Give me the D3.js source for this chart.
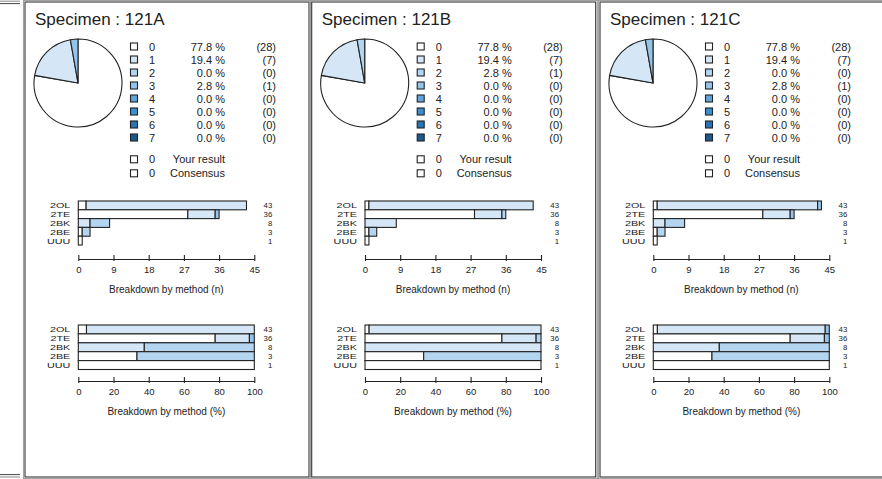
<!DOCTYPE html>
<html><head><meta charset="utf-8">
<script src="https://cdn.jsdelivr.net/npm/d3@7"></script>
<style>
body{margin:0;background:#fff;}
svg{display:block;font-family:"Liberation Sans",Arial,Helvetica,sans-serif;}
</style></head><body>
<svg id="chart" width="882" height="479"></svg>
<script>
// Specimens and the score scale (0..7)
const specimens = ["121A", "121B", "121C"];
const scoreLevels = ["0", "1", "2", "3", "4", "5", "6", "7"];
const scoreColors = ["#ffffff", "#d5e7f7", "#b3d5f0", "#94c4ea", "#5fa5dc", "#3a8fd0", "#2a74b5", "#1c5a8e"];

// Score distribution per specimen (counts for scores 0..7)
const scoreCounts121A = [28, 7, 0, 1, 0, 0, 0, 0];
const scoreCounts121B = [28, 7, 1, 0, 0, 0, 0, 0];
const scoreCounts121C = [28, 7, 0, 1, 0, 0, 0, 0];
const yourResult = [0, 0, 0];
const consensus = [0, 0, 0];

// Breakdown by method: rows follow `methods`, columns are scores 0..7
const methods = ["2OL", "2TE", "2BK", "2BE", "UUU"];
const methodScores121A = [
  [2, 41, 0, 0, 0, 0, 0, 0],
  [28, 7, 0, 1, 0, 0, 0, 0],
  [0, 3, 5, 0, 0, 0, 0, 0],
  [1, 0, 2, 0, 0, 0, 0, 0],
  [1, 0, 0, 0, 0, 0, 0, 0]
];
const methodScores121B = [
  [1, 42, 0, 0, 0, 0, 0, 0],
  [28, 7, 1, 0, 0, 0, 0, 0],
  [0, 8, 0, 0, 0, 0, 0, 0],
  [1, 0, 2, 0, 0, 0, 0, 0],
  [1, 0, 0, 0, 0, 0, 0, 0]
];
const methodScores121C = [
  [1, 41, 0, 1, 0, 0, 0, 0],
  [28, 7, 0, 1, 0, 0, 0, 0],
  [0, 3, 5, 0, 0, 0, 0, 0],
  [1, 0, 2, 0, 0, 0, 0, 0],
  [1, 0, 0, 0, 0, 0, 0, 0]
];
const countTicks = [0, 9, 18, 27, 36, 45];
const percentTicks = [0, 20, 40, 60, 80, 100];

const scoreCounts = [scoreCounts121A, scoreCounts121B, scoreCounts121C];
const methodScores = [methodScores121A, methodScores121B, methodScores121C];

const svg = d3.select("#chart");
const ink = "#222";
const panelLeft = [25, 311.7, 600];
const panelW = 284, panelTop = 2, panelBottom = 477;

// leftover edge of the previous sheet
[[1.2, "#888"], [3.6, "#444"], [474.6, "#444"], [477, "#888"]].forEach(([y, c]) => {
  svg.append("line").attr("x1", 0).attr("x2", 20).attr("y1", y).attr("y2", y)
    .attr("stroke", c).attr("stroke-width", 1);
});

function drawStackedBars(g, rows, x, y, asPercent) {
  rows.forEach((row, i) => {
    const total = d3.sum(row);
    let cum = 0;
    row.forEach((v, s) => {
      if (v <= 0) return;
      const a = asPercent ? cum / total * 100 : cum;
      const b = asPercent ? (cum + v) / total * 100 : cum + v;
      g.append("rect")
        .attr("x", x(a)).attr("y", y(methods[i]))
        .attr("width", x(b) - x(a)).attr("height", y.bandwidth())
        .attr("fill", scoreColors[s]).attr("stroke", ink).attr("stroke-width", 1.1);
      cum += v;
    });
  });
}

function drawMethodLabels(g, rows, x, y, xMax) {
  methods.forEach((m, i) => {
    const cy = y(m) + y.bandwidth() / 2 + 2.9;
    g.append("text")
      .attr("transform", `translate(${x(0) - 8},${cy}) scale(1.35,1)`)
      .attr("text-anchor", "end").attr("font-size", 8).attr("fill", ink).text(m);
    g.append("text")
      .attr("x", x(xMax) + 18).attr("y", cy)
      .attr("text-anchor", "end").attr("font-size", 7.8).attr("fill", ink)
      .text(d3.sum(rows[i]));
  });
}

function drawAxis(g, x, ticks, yAxis, title) {
  const ax = g.append("g").attr("transform", `translate(0,${yAxis})`)
    .call(d3.axisBottom(x).tickValues(ticks).tickFormat(d3.format("d"))
      .tickSizeInner(-4).tickSizeOuter(0).tickPadding(7.5));
  ax.select(".domain").attr("stroke", ink).attr("stroke-width", 1.1);
  ax.selectAll(".tick line").attr("y1", 2).attr("stroke", ink).attr("stroke-width", 1.1);
  ax.selectAll(".tick text").attr("font-size", 9.5).attr("fill", ink)
    .attr("font-family", "'Liberation Sans',Arial,sans-serif");
  g.append("text")
    .attr("x", (x.range()[0] + x.range()[1]) / 2).attr("y", yAxis + 33.5)
    .attr("text-anchor", "middle").attr("font-size", 10).attr("fill", ink).text(title);
}

specimens.forEach((name, p) => {
  const L = panelLeft[p];
  const g = svg.append("g");

  // sheet border
  g.append("rect").attr("x", L - 1.6).attr("y", panelTop - 1.6)
    .attr("width", panelW + 3.2).attr("height", panelBottom - panelTop + 3.2)
    .attr("fill", "none").attr("stroke", "#9a9a9a").attr("stroke-width", 1);
  g.append("rect").attr("x", L).attr("y", panelTop)
    .attr("width", panelW).attr("height", panelBottom - panelTop)
    .attr("fill", "#fff").attr("stroke", "#333").attr("stroke-width", 1.1);

  g.append("text").attr("x", L + 10).attr("y", 25)
    .attr("font-size", 17).attr("fill", ink).text("Specimen : " + name);

  // pie of the score distribution
  const counts = scoreCounts[p];
  const total = d3.sum(counts);
  const pie = d3.pie().sort(null).value(d => d.v);
  const arc = d3.arc().innerRadius(0).outerRadius(44);
  const slices = pie(counts.map((v, s) => ({ v, s }))).filter(d => d.data.v > 0);
  const pg = g.append("g").attr("transform", `translate(${L + 53},83)`);
  pg.selectAll("path").data(slices).join("path")
    .attr("d", arc).attr("fill", d => scoreColors[d.data.s])
    .attr("stroke", ink).attr("stroke-width", 1.1).attr("stroke-linejoin", "round");

  // legend
  const rowY = d3.scaleLinear().domain([0, 1]).range([46.5, 59.5]);
  scoreLevels.forEach((lvl, s) => {
    const cy = rowY(s);
    g.append("rect").attr("x", L + 105.5).attr("y", cy - 3.5).attr("width", 7).attr("height", 7)
      .attr("fill", scoreColors[s]).attr("stroke", ink).attr("stroke-width", 1.1);
    g.append("text").attr("x", L + 124).attr("y", cy + 4).attr("font-size", 11).attr("fill", ink).text(lvl);
    g.append("text").attr("x", L + 200).attr("y", cy + 4).attr("text-anchor", "end")
      .attr("font-size", 11).attr("fill", ink).text(d3.format(".1f")(counts[s] / total * 100) + " %");
    g.append("text").attr("x", L + 251).attr("y", cy + 4).attr("text-anchor", "end")
      .attr("font-size", 11).attr("fill", ink).text("(" + counts[s] + ")");
  });
  [["Your result", yourResult[p], 159.3], ["Consensus", consensus[p], 173.3]].forEach(([lab, v, cy]) => {
    g.append("rect").attr("x", L + 105.5).attr("y", cy - 3.5).attr("width", 7).attr("height", 7)
      .attr("fill", "#fff").attr("stroke", ink).attr("stroke-width", 1.1);
    g.append("text").attr("x", L + 124).attr("y", cy + 4).attr("font-size", 11).attr("fill", ink).text(v);
    g.append("text").attr("x", L + 200).attr("y", cy + 4).attr("text-anchor", "end")
      .attr("font-size", 11).attr("fill", ink).text(lab);
  });

  const rows = methodScores[p];

  // breakdown by method, counts
  const xN = d3.scaleLinear().domain([0, 45]).range([L + 53.3, L + 229.3]);
  const yN = d3.scaleBand().domain(methods).range([201, 245]).padding(0);
  drawStackedBars(g, rows, xN, yN, false);
  drawMethodLabels(g, rows, xN, yN, 45);
  drawAxis(g, xN, countTicks, 259, "Breakdown by method (n)");

  // breakdown by method, percent
  const xP = d3.scaleLinear().domain([0, 100]).range([L + 53.3, L + 229.3]);
  const yP = d3.scaleBand().domain(methods).range([325, 369.5]).padding(0);
  drawStackedBars(g, rows, xP, yP, true);
  drawMethodLabels(g, rows, xP, yP, 100);
  drawAxis(g, xP, percentTicks, 381, "Breakdown by method (%)");
});
</script>
</body></html>
